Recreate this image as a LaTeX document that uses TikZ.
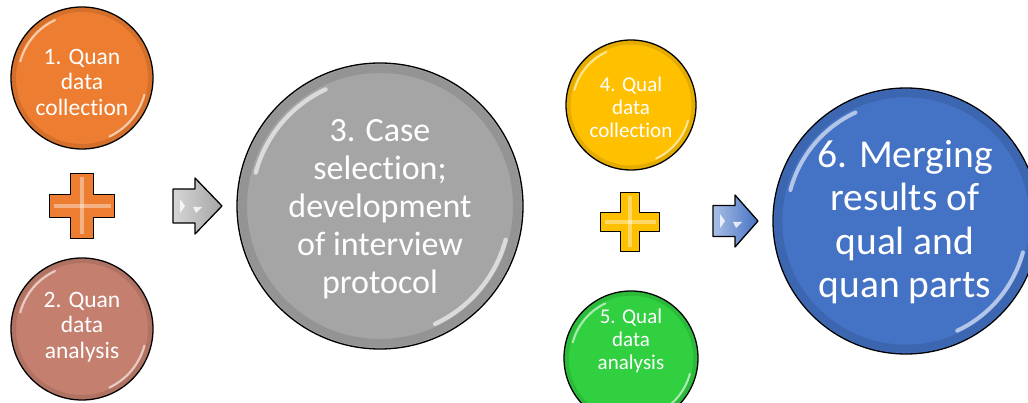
\documentclass[tikz,border=0pt]{standalone}
\usepackage{fontspec}
\setmainfont{Carlito}[Ligatures=NoCommon]
\definecolor{cOrange}{HTML}{ED7D31}
\definecolor{cRose}{HTML}{C47F6E}
\definecolor{cGray}{HTML}{A5A5A5}
\definecolor{cGold}{HTML}{FFC000}
\definecolor{cGreen}{HTML}{30D040}
\definecolor{cBlue}{HTML}{4472C4}
\tikzset{
  ball/.style={circle, draw=black, line width=1.3pt, inner sep=0pt},
  hl/.style={white, opacity=0.6, line cap=round},
  rim/.style={black, opacity=0.10},
  shapeline/.style={draw=black, line width=1.3pt, line join=round},
  txt/.style={text=white, align=center, inner sep=0pt},
}
% gloss highlights for a ball named #1 with radius #2
\newcommand\BallGloss[2]{%
  \draw[rim, line width=0.06*#2pt] (#1.center) circle[radius=0.96*#2];
  \draw[hl, line width=0.03*#2pt] (#1.center) ++(-115:0.9*#2) arc[start angle=-115, end angle=-165, radius=0.9*#2];
  \draw[hl, line width=0.03*#2pt] (#1.center) ++(15:0.91*#2) arc[start angle=15, end angle=65, radius=0.91*#2];
}
% plus sign: cx, cy, half size, arm half width, colour
\newcommand\PlusSign[5]{%
  \filldraw[shapeline, fill=#5]
    (#1-#4,#2-#3) -- (#1+#4,#2-#3) -- (#1+#4,#2-#4) -- (#1+#3,#2-#4) --
    (#1+#3,#2+#4) -- (#1+#4,#2+#4) -- (#1+#4,#2+#3) -- (#1-#4,#2+#3) --
    (#1-#4,#2+#4) -- (#1-#3,#2+#4) -- (#1-#3,#2-#4) -- (#1-#4,#2-#4) -- cycle;
  \draw[white, opacity=0.4, line width=0.35*#4pt, line cap=butt] (#1,#2-#3+4) -- (#1,#2+#3-4);
  \draw[white, opacity=0.4, line width=0.35*#4pt, line cap=butt] (#1-#3+4,#2) -- (#1+#3-4,#2);
}
% block arrow: left x, head base x, tip x, cy, body half, head half, colour
\newcommand\BlockArrow[7]{%
  \shade[left color=#7!45!white, right color=#7]
    (#1,#4-#5) -- (#2,#4-#5) -- (#2,#4-#6) -- (#3,#4) -- (#2,#4+#6) --
    (#2,#4+#5) -- (#1,#4+#5) -- cycle;
  \draw[shapeline]
    (#1,#4-#5) -- (#2,#4-#5) -- (#2,#4-#6) -- (#3,#4) -- (#2,#4+#6) --
    (#2,#4+#5) -- (#1,#4+#5) -- cycle;
  \fill[white, opacity=0.8] (#1+7,#4-7) -- (#1+12,#4) -- (#1+7,#4+7) -- cycle;
  \fill[white, opacity=0.8] (#2-2,#4+1) -- (#2+7,#4+1) -- (#2+1,#4+7) -- cycle;
}
\begin{document}
\begin{tikzpicture}[x=1pt,y=-1pt]
\useasboundingbox (0,0) rectangle (1028,403);
\begin{scope}
\clip (0,0) rectangle (1028,403);

% circles
\node[ball, fill=cOrange, minimum size=142pt] (c1) at (82,78) {};
\node[ball, fill=cRose,   minimum size=142pt] (c2) at (82,329) {};
\node[ball, fill=cGray,   minimum size=286pt] (c3) at (380,206) {};
\node[ball, fill=cGold,   minimum size=130pt] (c4) at (631,105) {};
\node[ball, fill=cGreen,  minimum size=134pt] (c5) at (631,358) {};
\node[ball, fill=cBlue,   minimum size=266pt] (c6) at (906,221) {};

\BallGloss{c1}{71}
\BallGloss{c2}{71}
\BallGloss{c3}{143}
\BallGloss{c4}{65}
\BallGloss{c5}{67}
\BallGloss{c6}{133}

% texts
\node[txt, font=\fontsize{23.5}{25.5}\selectfont] (t1) at (82,82) {1. Quan\\data\\collection};
\node[txt, font=\fontsize{23.5}{25.5}\selectfont] (t2) at (82,327) {2. Quan\\data\\analysis};
\node[txt, font=\fontsize{34}{38}\selectfont] (t3) at (380,209) {3. Case\\selection;\\development\\of interview\\protocol};
\node[txt, font=\fontsize{21}{23}\selectfont] (t4) at (631,107) {4. Qual\\data\\collection};
\node[txt, font=\fontsize{21}{23}\selectfont] (t5) at (631,341) {5. Qual\\data\\analysis};
\node[txt, font=\fontsize{39.5}{43.5}\selectfont] (t6) at (905,222) {6. Merging\\results of\\qual and\\quan parts};
\end{scope}

% plus signs
\PlusSign{82}{206}{32.5}{11.5}{cOrange}
\PlusSign{630}{222}{29.5}{9.5}{cGold}

% arrows
\BlockArrow{173}{195}{222}{206}{17}{28}{cGray}
\BlockArrow{713}{735}{758}{221}{15.5}{26}{cBlue}
\end{tikzpicture}
\end{document}
